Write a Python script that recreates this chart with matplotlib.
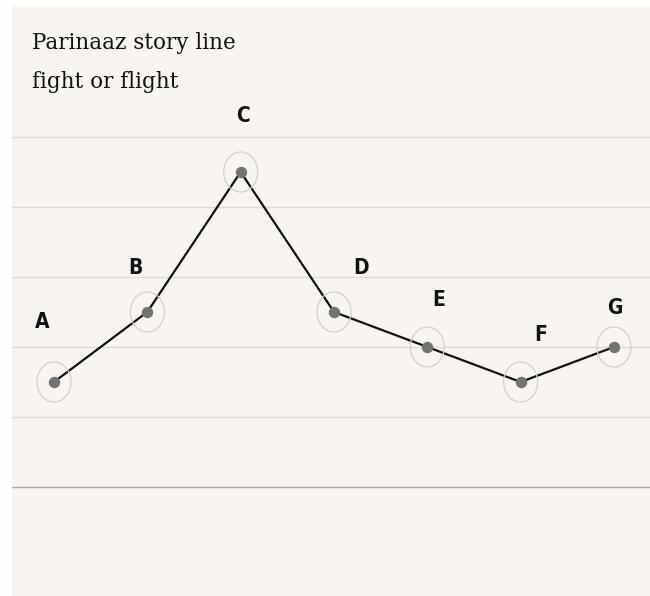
import matplotlib
matplotlib.use("Agg")
import matplotlib.pyplot as plt
import numpy as np
from matplotlib.path import Path

# story beats
beats = ["A", "B", "C", "D", "E", "F", "G"]
intensity = [1.5, 2.5, 4.5, 2.5, 2.0, 1.5, 2.0]
gridlines = [1, 2, 3, 4, 5]

# label nudges in pixels (dx, dy), hand-placed like the original
label_offsets = [(-12, 60), (-12, 44), (2, 56), (27, 44), (11, 47), (20, 47), (1, 39)]

BG = "#f8f5f0"

# slightly tall ellipse for the halo ring around each beat
t = np.linspace(0, 2 * np.pi, 73)
ring = Path(np.column_stack([0.85 * np.cos(t), np.sin(t)]))

fig = plt.figure(figsize=(6.5, 5.96), dpi=100)
fig.patch.set_facecolor("white")
ax = fig.add_axes([12 / 650, 0, 638 / 650, 590 / 596])
ax.set_facecolor(BG)

x = list(range(len(beats)))
ax.set_xlim(-0.45, 6.386)
ax.set_ylim(-1.557, 6.871)

for g in gridlines:
    ax.axhline(g, color="#dddad5", lw=1.0, zorder=1)
ax.axhline(0, color="#a9a8a6", lw=1.0, zorder=1)

ax.plot(x, intensity, color="#111111", lw=1.6, zorder=2)
ax.scatter(x, intensity, s=(40 * 0.72) ** 2, marker=ring, facecolors="none",
           edgecolors="#d2d0cc", linewidths=0.9, zorder=3)
ax.scatter(x, intensity, s=52, color="#737373", zorder=4)

for xi, yi, name, (dx, dy) in zip(x, intensity, beats, label_offsets):
    ax.annotate(name, (xi, yi), xytext=(dx, dy), textcoords="offset pixels",
                ha="center", va="center", fontsize=15, fontweight="bold",
                fontstretch="condensed", family="DejaVu Sans", color="#111111")

for s in ax.spines.values():
    s.set_visible(False)
ax.set_xticks([])
ax.set_yticks([])

fig.text(32 / 650, 1 - 43 / 596, "Parinaaz story line", fontsize=15.5, family="DejaVu Serif",
         va="center", ha="left", color="#111111")
fig.text(32 / 650, 1 - 82 / 596, "fight or flight", fontsize=15.5, family="DejaVu Serif",
         va="center", ha="left", color="#111111")

fig.savefig("out.png", dpi=100, facecolor=fig.get_facecolor())
